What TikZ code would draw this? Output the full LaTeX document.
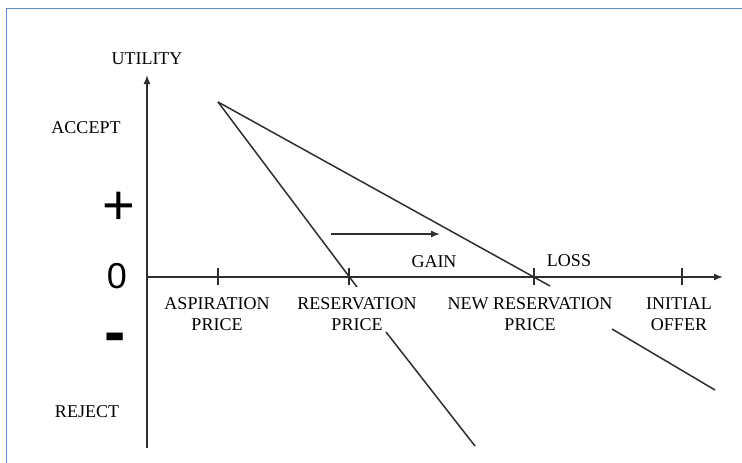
\documentclass[tikz,border=0pt]{standalone}
\usepackage{fontspec}
\setmainfont{Liberation Serif}
\newfontfamily\sansf{Liberation Sans}
\usetikzlibrary{arrows.meta}
\definecolor{linegray}{HTML}{2E2E2E}
\definecolor{framecol}{HTML}{5B8BC9}
\tikzset{
  lbl/.style={inner sep=0pt, font=\fontsize{18}{21}\selectfont, align=center, text=black},
  bigsign/.style={inner sep=0pt, text=black},
  axisline/.style={draw=linegray, line width=1.5pt, -{Latex[length=9pt,width=7pt]}},
  curve/.style={draw=linegray, line width=1.5pt},
  tickmark/.style={draw=linegray, line width=1.5pt},
}
\begin{document}
\begin{tikzpicture}[x=1pt,y=-1pt]
\useasboundingbox (0,0) rectangle (742,463);
% frame (left and top edges visible)
\draw[framecol, line width=1.5pt] (6.5,463) -- (6.5,8.5) -- (742,8.5);

% axes
\coordinate (O) at (147,277);
\coordinate (ybot) at (147,448);
\coordinate (ytop) at (147,75);
\coordinate (xend) at (723,277);
\draw[axisline] (ybot) -- (ytop);
\draw[axisline] (O) -- (xend);

% ticks
\foreach \n/\x in {asp/218, res/349, nres/534, init/682}{
  \coordinate (\n t) at (\x,268);
  \coordinate (\n b) at (\x,285);
  \draw[tickmark] (\n t) -- (\n b);
}

% lines
\coordinate (apex) at (218,102);
\coordinate (steepend) at (357,287);
\coordinate (shallowend) at (550,286);
\coordinate (steepA) at (386,332);
\coordinate (steepB) at (475,446);
\coordinate (shalA) at (612,329);
\coordinate (shalB) at (715,390);
\draw[curve] (apex) -- (steepend);
\draw[curve] (apex) -- (shallowend);
\draw[curve] (steepA) -- (steepB);
\draw[curve] (shalA) -- (shalB);

% gain arrow
\coordinate (ga) at (331,234);
\coordinate (gb) at (440,234);
\draw[axisline] (ga) -- (gb);

% labels
\node[lbl] (utility) at (147,59) {UTILITY};
\node[lbl] (accept) at (86,128) {ACCEPT};
\node[lbl] (reject) at (87,412) {REJECT};
\node[bigsign, font=\sansf\fontsize{56}{56}\selectfont] (plus) at (119,208) {+};
\node[bigsign, font=\sansf\fontsize{36}{36}\selectfont] (zero) at (117,276) {0};
\node[bigsign, font=\sansf\bfseries\fontsize{64}{64}\selectfont] (minus) at (115,343) {-};
\node[lbl] (gain) at (434,262) {GAIN};
\node[lbl] (loss) at (569,261) {LOSS};
\node[lbl] (asp) at (217,314) {ASPIRATION\\PRICE};
\node[lbl] (res) at (357,314) {RESERVATION\\PRICE};
\node[lbl] (nres) at (530,314) {NEW RESERVATION\\PRICE};
\node[lbl] (init) at (679,314) {INITIAL\\OFFER};
\end{tikzpicture}
\end{document}
